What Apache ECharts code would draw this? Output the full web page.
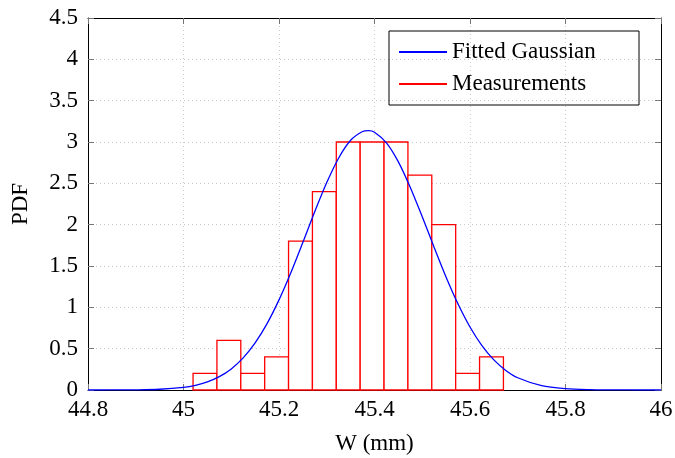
<!DOCTYPE html>
<html>
<head>
<meta charset="utf-8">
<script src="https://cdn.jsdelivr.net/npm/echarts@6/dist/echarts.min.js"></script>
<style>
  html, body { margin: 0; padding: 0; background: #fff; }
  #chart { width: 675px; height: 458px; }
</style>
</head>
<body>
<div id="chart"></div>
<script>
// histogram bins (W in mm) and their density
const binEdges = [45.02, 45.07, 45.12, 45.17, 45.22, 45.27, 45.32, 45.37, 45.42, 45.47, 45.52, 45.57, 45.62, 45.67];
const binDensity = [0.2, 0.6, 0.2, 0.4, 1.8, 2.4, 3, 3, 3, 2.6, 2, 0.2, 0.4];

// fitted gaussian
const curveX = [44.8, 44.85, 44.9, 44.95, 45.0, 45.025, 45.05, 45.075, 45.1, 45.125, 45.15, 45.175,
    45.2, 45.225, 45.25, 45.275, 45.3, 45.325, 45.35, 45.375, 45.3875, 45.4, 45.425, 45.45, 45.475,
    45.5, 45.525, 45.55, 45.575, 45.6, 45.625, 45.65, 45.675, 45.7, 45.75, 45.8, 45.85, 45.9, 45.95, 46.0];
const curveY = [0, 0.0005, 0.002, 0.009, 0.032, 0.057, 0.098, 0.161, 0.255, 0.388, 0.569, 0.803,
    1.09, 1.422, 1.786, 2.159, 2.509, 2.807, 3.021, 3.127, 3.137, 3.118, 2.99, 2.76, 2.45,
    2.095, 1.725, 1.365, 1.04, 0.762, 0.537, 0.364, 0.237, 0.148, 0.052, 0.016, 0.004, 0.001, 0.0002, 0];

const FONT = 'Liberation Serif';
const FS = 23;

const bins = binDensity.map((d, i) => [binEdges[i], binEdges[i + 1], d]);
const curve = curveX.map((x, i) => [x, curveY[i]]);

const chart = echarts.init(document.getElementById('chart'));

const gridLine = { show: true, lineStyle: { color: '#c8c8c8', width: 1, type: [1, 3] } };
const tick = { show: true, inside: true, length: 6, lineStyle: { color: '#777', width: 1 } };
const frame = { show: true, onZero: false, lineStyle: { color: '#000', width: 1 } };

chart.setOption({
    animation: false,
    // fixed plot box, don't let v6 shrink it for the axis names
    grid: { left: 88, right: 14, top: 18, bottom: 68, outerBoundsMode: 'none' },
    legend: {
        orient: 'vertical',
        left: 389,
        top: 31,
        icon: 'rect',
        itemWidth: 48,
        itemHeight: 2,
        itemGap: 8,
        itemTextGap: 8,
        padding: [9, 15, 9, 10],
        borderColor: '#000',
        borderWidth: 1,
        textStyle: { fontFamily: FONT, fontSize: FS, color: '#000', width: 172, lineHeight: 24 },
        data: [
            { name: 'Fitted Gaussian', itemStyle: { color: '#0000ff' } },
            { name: 'Measurements', itemStyle: { color: '#ff0000' } }
        ]
    },
    xAxis: [{
        type: 'value',
        min: 44.8,
        max: 46,
        interval: 0.2,
        name: 'W (mm)',
        nameLocation: 'middle',
        nameGap: 42,
        nameTextStyle: { fontFamily: FONT, fontSize: FS, color: '#000' },
        axisLine: frame,
        axisTick: tick,
        splitLine: gridLine,
        axisLabel: { fontFamily: FONT, fontSize: FS, color: '#000', margin: 8 }
    }, {
        type: 'value',
        position: 'top',
        min: 44.8,
        max: 46,
        interval: 0.2,
        axisLine: frame,
        axisTick: tick,
        splitLine: { show: false },
        axisLabel: { show: false }
    }],
    yAxis: [{
        type: 'value',
        min: 0,
        max: 4.5,
        interval: 0.5,
        name: 'PDF',
        nameLocation: 'middle',
        nameGap: 56,
        nameTextStyle: { fontFamily: FONT, fontSize: FS, color: '#000' },
        axisLine: frame,
        axisTick: tick,
        splitLine: gridLine,
        axisLabel: { fontFamily: FONT, fontSize: FS, color: '#000', margin: 10 }
    }, {
        type: 'value',
        position: 'right',
        min: 0,
        max: 4.5,
        interval: 0.5,
        axisLine: frame,
        axisTick: tick,
        splitLine: { show: false },
        axisLabel: { show: false }
    }],
    series: [{
        name: 'Measurements',
        type: 'custom',
        z: 3,
        encode: { x: [0, 1], y: 2 },
        data: bins,
        renderItem: (params, api) => {
            const p0 = api.coord([api.value(0), api.value(2)]);
            const p1 = api.coord([api.value(1), 0]);
            return {
                type: 'rect',
                shape: { x: p0[0], y: p0[1], width: p1[0] - p0[0], height: p1[1] - p0[1] },
                style: { fill: '#fff', stroke: '#ff0000', lineWidth: 1.3 }
            };
        }
    }, {
        name: 'Fitted Gaussian',
        type: 'line',
        z: 5,
        data: curve,
        showSymbol: false,
        smooth: 0.3,
        lineStyle: { color: '#0000ff', width: 1.3 }
    }]
});
</script>
</body>
</html>
